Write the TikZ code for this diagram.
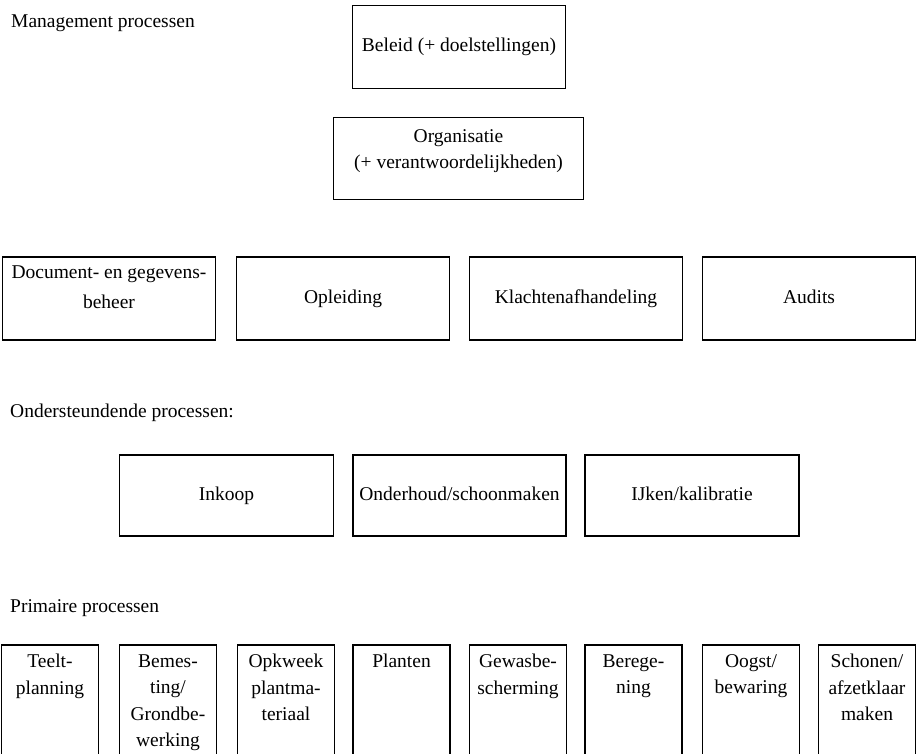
\documentclass[tikz,border=0pt]{standalone}
\usepackage{fontspec}
\setmainfont{Liberation Serif}
\newcommand\fsz{\fontsize{19.5}{26}\selectfont}
\newcommand\fszp{\fontsize{19.5}{26.5}\selectfont}
\begin{document}
\begin{tikzpicture}[x=1pt,y=-1pt,
  bx/.style={draw, line width=1.5pt, inner sep=0pt, align=center, font=\fsz},
  one/.style={text height=13pt, text depth=4pt},
  lbl/.style={anchor=west, inner sep=0pt, font=\fsz},
  ptxt/.style={anchor=north, align=center, inner xsep=0pt, inner ysep=10pt, font=\fszp}]
\useasboundingbox (0,0) rectangle (916,754);
\clip (0,0) rectangle (916,754);
% Management
\node[lbl] (mgmt) at (11,23) {Management processen};
\node[bx, one, minimum width=213, minimum height=83] (beleid) at (459,47) {Beleid (+ doelstellingen)};
\node[bx, minimum width=250, minimum height=82, text depth=18pt] (org) at (458.5,158.5) {Organisatie\\(+ verantwoordelijkheden)};
% row 3
\node[bx, minimum width=213, minimum height=83, text depth=22pt] (doc) at (109,298.5) {Document- en gegevens-\\[4pt]beheer};
\node[bx, one, minimum width=213, minimum height=83] (opl) at (343,298.5) {Opleiding};
\node[bx, one, minimum width=213, minimum height=83] (kla) at (576,298.5) {Klachtenafhandeling};
\node[bx, one, minimum width=213, minimum height=83] (aud) at (809,298.5) {Audits};
% Ondersteundende
\node[lbl] (onder) at (10,413) {Ondersteundende processen:};
\node[bx, one, minimum width=214, minimum height=81] (ink) at (226.5,495.5) {Inkoop};
\node[bx, one, minimum width=213, minimum height=81] (ond) at (459.5,495.5) {Onderhoud/schoonmaken};
\node[bx, one, minimum width=214, minimum height=81] (ijk) at (692,495.5) {IJken/kalibratie};
% Primaire
\node[lbl] (prim) at (10,608) {Primaire processen};
\node[bx, minimum width=97, minimum height=140] (p1) at (50,715) {};
\node[bx, minimum width=97, minimum height=140] (p2) at (168,715) {};
\node[bx, minimum width=97, minimum height=140] (p3) at (286,715) {};
\node[bx, minimum width=97, minimum height=140] (p4) at (401.5,715) {};
\node[bx, minimum width=97, minimum height=140] (p5) at (518,715) {};
\node[bx, minimum width=97, minimum height=140] (p6) at (633.5,715) {};
\node[bx, minimum width=97, minimum height=140] (p7) at (751,715) {};
\node[bx, minimum width=97, minimum height=140] (p8) at (867,715) {};
\node[ptxt] (t1) at (p1.north) {Teelt-\\planning};
\node[ptxt] (t2) at (p2.north) {Bemes-\\ting/\\Grondbe-\\werking};
\node[ptxt] (t3) at (p3.north) {Opkweek\\plantma-\\teriaal};
\node[ptxt] (t4) at (p4.north) {Planten};
\node[ptxt] (t5) at (p5.north) {Gewasbe-\\scherming};
\node[ptxt] (t6) at (p6.north) {Berege-\\ning};
\node[ptxt] (t7) at (p7.north) {Oogst/\\bewaring};
\node[ptxt] (t8) at (p8.north) {Schonen/\\afzetklaar\\maken};
\end{tikzpicture}
\end{document}
